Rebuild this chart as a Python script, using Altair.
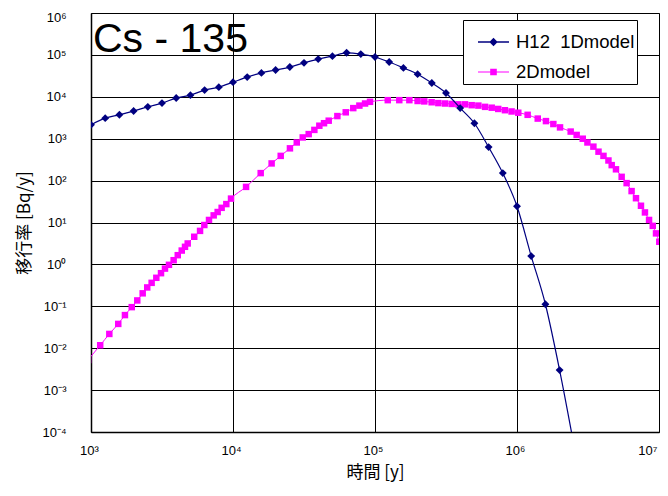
import altair as alt
import pandas as pd

# ---- data ----
series_names = ["H12\u00a0 1Dmodel\u00a0\u00a0\u00a0", "2Dmodel"]

h12_t = [1000, 1259, 1585, 1995, 2512, 3162, 3981, 5012, 6310, 7943,
         10000, 12589, 15849, 19953, 25119, 31623, 39811, 50119, 63096, 79433,
         100000, 125893, 158489, 199526, 251189, 316228, 398107, 501187, 630957, 794328,
         1000000, 1258925, 1584893, 1995262, 2511886]
h12_v = [2140, 3090, 3720, 4570, 5750, 7080, 9330, 10960, 14450, 16980,
         22390, 29510, 37150, 43650, 51290, 64570, 79430, 93330, 112200, 104700,
         89130, 67610, 48980, 34670, 21380, 12300, 5370, 2340, 631, 151,
         24.5, 1.58, 0.112, 0.0030, 0.00005]

d2_t = [953, 1161, 1346, 1556, 1734, 1936, 2118, 2312, 2489, 2673, 2884,
        3112, 3319, 3540, 3819, 4083, 4355, 4592, 4797, 5333, 5861,
        6281, 6776, 7311, 7798, 8318, 8974, 9683, 12359, 15668, 18707,
        21677, 25177, 28119, 30974, 34119, 37411, 40551, 43752, 47206, 54325,
        62230, 70307, 77625, 85114, 92257, 123027, 148252, 174582, 199526, 222331,
        250611, 279254, 311172, 346737, 386367, 430527, 479733, 534564, 595662, 663743,
        737904, 822243, 916220, 1020939, 1188502, 1399587, 1599558, 1803018, 2009093, 2387811,
        2630268, 2904023, 3133286, 3451437, 3749730, 4064433, 4405549, 4645152, 4977371, 5457579,
        5915616, 6412095, 6886523, 7464488, 7961594, 8511380, 9036495, 9527841, 10046158, 10715193]
d2_v = [0.00525, 0.01175, 0.0219, 0.0380, 0.0617, 0.0955, 0.138, 0.204, 0.282, 0.363, 0.479,
        0.617, 0.794, 0.977, 1.26, 1.66, 2.14, 2.63, 3.16, 4.57, 6.31,
        8.71, 11.5, 14.8, 17.8, 22.4, 27.5, 37.2, 70.8, 151, 257,
        389, 589, 813, 1072, 1288, 1622, 2042, 2344, 2692, 3467,
        4266, 5370, 6166, 6918, 7586, 8318, 8318, 8318, 7943, 7762,
        7413, 7079, 6918, 6761, 6607, 6607, 6310, 6166, 5754, 5495,
        5129, 4786, 4467, 4169, 3715, 3020, 2630, 2239, 1862, 1479,
        1230, 1000, 813, 646, 490, 389, 302, 234, 186, 123,
        87.1, 56.2, 38.0, 25.1, 17.4, 11.5, 8.32, 5.50, 3.47, 1.86]

x_ticks = [1e3, 1e4, 1e5, 1e6, 1e7]
y_ticks = [1e-4, 1e-3, 1e-2, 1e-1, 1e0, 1e1, 1e2, 1e3, 1e4, 1e5, 1e6]

chart_title = "Cs - 135"
x_title = "時間 [y]"
y_title = "移行率 [Bq/y]"

colors = ["#000080", "#FF00FF"]

df1 = pd.DataFrame({"t": h12_t, "v": h12_v, "series": series_names[0]})
df2 = pd.DataFrame({"t": d2_t, "v": d2_v, "series": series_names[1]})
df_all = pd.concat([df1, df2], ignore_index=True)

sup = "['\u2070','\u00b9','\u00b2','\u00b3','\u2074','\u2075','\u2076','\u2077','\u2078','\u2079']"
label_expr = ("'10' + (round(log(datum.value)/LN10) < 0 ? '\u207b' : '') + "
              + sup + "[abs(round(log(datum.value)/LN10))]")

x_enc = alt.X("t:Q",
              scale=alt.Scale(type="log", domain=[1e3, 1e7], nice=False),
              axis=alt.Axis(values=x_ticks, labelExpr=label_expr, title=x_title,
                            grid=True, ticks=False, tickSize=0, labelPadding=12,
                            titlePadding=7, labelFlush=False, labelOffset=-2,
                            labelAlign={"condition": {"test": "datum.value >= 9e6", "value": "right"},
                                        "value": "center"}))
y_enc = alt.Y("v:Q",
              scale=alt.Scale(type="log", domain=[1e-4, 1e6], nice=False),
              axis=alt.Axis(values=y_ticks, labelExpr=label_expr, title=y_title,
                            grid=True, ticks=False, tickSize=0, labelPadding=25,
                            titleX=-58, titleY=209.5, titleAngle=-90,
                            titleBaseline="bottom", labelFlush=False,
                            labelOffset={"condition": {"test": "datum.value >= 9e5", "value": 4},
                                         "value": 0}))

line2 = alt.Chart(df2).mark_line(color=colors[1], strokeWidth=1, clip=True,
                                 interpolate="monotone").encode(x=x_enc, y=y_enc)
pts2 = alt.Chart(df2).mark_point(shape="square", filled=True, color=colors[1], size=42,
                                 opacity=1, clip=True).encode(x=x_enc, y=y_enc)
line1 = alt.Chart(df1).mark_line(color=colors[0], strokeWidth=1.2, clip=True,
                                 interpolate="monotone").encode(x=x_enc, y=y_enc)
pts1 = alt.Chart(df1).mark_point(shape="diamond", filled=True, color=colors[0], size=62,
                                 opacity=1, clip=True).encode(x=x_enc, y=y_enc)

# legend symbols: a short line with the marker in its middle
path_diamond = "M-0.35,-0.035H1.2V0.035H-0.35Z M0.425,-0.21L0.635,0L0.425,0.21L0.215,0Z"
path_square = "M-0.35,-0.03H1.2V0.03H-0.35Z M0.26,-0.165H0.59V0.165H0.26Z"

leg = alt.Legend(title=None, orient="none", legendX=372, legendY=7,
                 fillColor="white", strokeColor="black", padding=2,
                 labelFont="Liberation Sans", labelFontSize=18.5, labelColor="black",
                 symbolSize=1600, labelOffset=11, rowPadding=0,
                 symbolStrokeWidth=0, labelLimit=400, symbolOpacity=1)

legend_layer = alt.Chart(df_all).transform_filter("false").mark_point(
    filled=True, opacity=1).encode(
    x=x_enc, y=y_enc,
    color=alt.Color("series:N", scale=alt.Scale(domain=series_names, range=colors), legend=leg),
    shape=alt.Shape("series:N", scale=alt.Scale(domain=series_names, range=[path_diamond, path_square]),
                    legend=leg),
)

title_layer = alt.Chart(alt.Data(values=[{"label": chart_title}])).mark_text(
    align="left", baseline="alphabetic", fontSize=41, font="Liberation Sans", color="black"
).encode(text="label:N", x=alt.value(2), y=alt.value(39))

chart = alt.layer(line2, pts2, line1, pts1, legend_layer, title_layer).properties(
    width=568, height=419,
    autosize=alt.AutoSizeParams(type="none"),
    padding={"left": 83, "top": 5, "right": 1, "bottom": 52},
).configure_view(
    stroke="#808080", strokeWidth=1
).configure_axis(
    labelFont="Liberation Sans", labelFontSize=13, labelColor="black",
    titleFont="Noto Sans CJK JP", titleFontSize=17, titleFontWeight="normal", titleColor="black",
    domainColor="black", domainWidth=1.5, gridColor="black", gridWidth=1, gridOpacity=1,
)

chart.save("out.html", embed_options={"renderer": "svg", "actions": False})
